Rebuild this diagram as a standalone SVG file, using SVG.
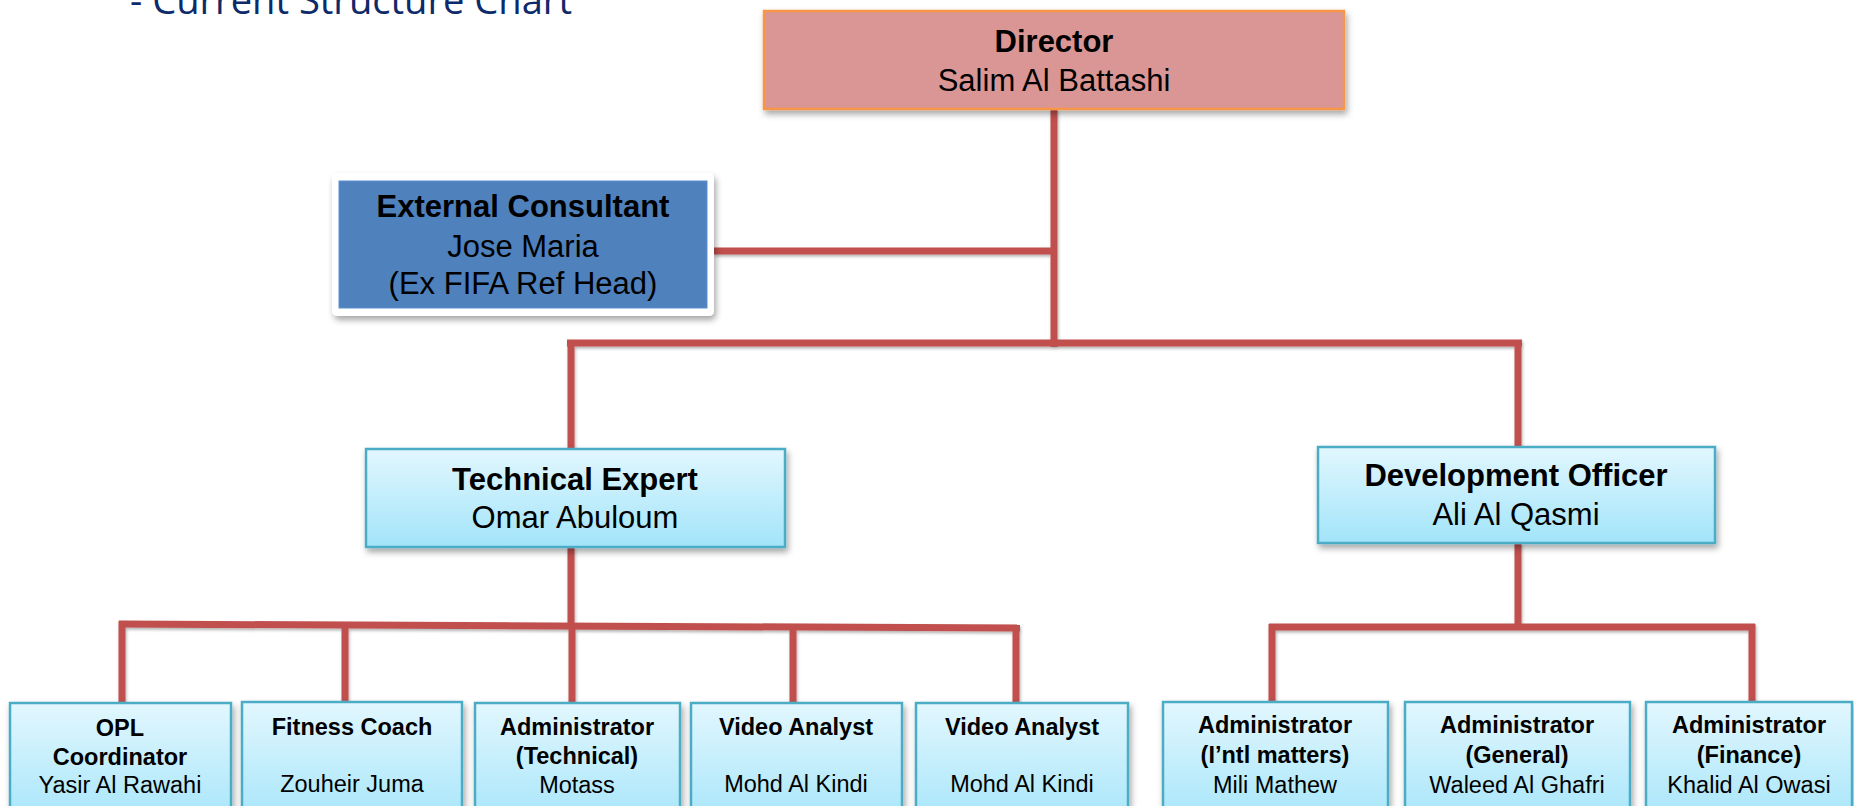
<svg xmlns="http://www.w3.org/2000/svg" width="1854" height="806" viewBox="0 0 1854 806">
<defs>
<linearGradient id="cyan" x1="0" y1="0" x2="0" y2="1">
<stop offset="0" stop-color="#e2f7fe"/>
<stop offset="1" stop-color="#a2e4fa"/>
</linearGradient>
<filter id="sh" x="-10%" y="-10%" width="130%" height="140%">
<feDropShadow dx="2" dy="4" stdDeviation="3" flood-color="#000" flood-opacity="0.35"/>
</filter>
<filter id="lsh" filterUnits="userSpaceOnUse" x="0" y="0" width="1854" height="806">
<feDropShadow dx="1" dy="2" stdDeviation="1.5" flood-color="#000" flood-opacity="0.3"/>
</filter>
</defs>
<style>
text{font-family:"Liberation Sans",Arial,sans-serif;fill:#000;text-anchor:middle}
.b{font-weight:bold}
.big{font-size:31px}
.sm{font-size:23.5px}
.box{fill:url(#cyan);stroke:#4bacc6;stroke-width:2.5;filter:url(#sh)}
.con{stroke:#c0504d;stroke-width:7;fill:none;stroke-linecap:butt}
.title{font-family:"Open Sans","Liberation Sans",sans-serif;fill:#0d2a6a;font-size:38px;text-anchor:start}
</style>
<rect width="1854" height="806" fill="#fff"/>
<text class="title" x="130" y="14" textLength="442" lengthAdjust="spacingAndGlyphs">- Current Structure Chart</text>

<g id="connectors" filter="url(#lsh)">
<path class="con" d="M1054 109 V347"/>
<path class="con" d="M714 251 H1054"/>
<path class="con" d="M567 343 H1522"/>
<path class="con" d="M571 340 V449"/>
<path class="con" d="M1518 340 V447"/>
<path class="con" d="M571 547 V626"/>
<path class="con" d="M119 624 L1020 628"/>
<path class="con" d="M122 621 V703"/>
<path class="con" d="M345 627 V702"/>
<path class="con" d="M572 626 V703"/>
<path class="con" d="M793 627 V703"/>
<path class="con" d="M1016 625 V703"/>
<path class="con" d="M1518 543 V627"/>
<path class="con" d="M1269 627 H1755"/>
<path class="con" d="M1272 624 V702"/>
<path class="con" d="M1752 624 V702"/>
</g>

<g id="director">
<rect x="764" y="11" width="580" height="98" fill="#d99694" stroke="#f79646" stroke-width="2.5" filter="url(#sh)"/>
<text class="b big" x="1054" y="52">Director</text>
<text class="big" x="1054" y="91">Salim Al Battashi</text>
</g>

<g id="consultant">
<rect x="332" y="173" width="382" height="143" rx="5" fill="#fff" filter="url(#sh)"/>
<rect x="339" y="181" width="368" height="127" fill="#4f81bd" stroke="#5b8fd0" stroke-width="1"/>
<text class="b big" x="523" y="217">External Consultant</text>
<text class="big" x="523" y="257">Jose Maria</text>
<text class="big" x="523" y="294">(Ex FIFA Ref Head)</text>
</g>

<g id="technical-expert">
<rect class="box" x="366" y="449" width="419" height="98"/>
<text class="b big" x="575" y="490">Technical Expert</text>
<text class="big" x="575" y="528">Omar Abuloum</text>
</g>

<g id="development-officer">
<rect class="box" x="1318" y="447" width="397" height="96"/>
<text class="b big" x="1516" y="486">Development Officer</text>
<text class="big" x="1516" y="525">Ali Al Qasmi</text>
</g>

<g id="opl">
<rect class="box" x="10" y="703" width="221" height="130"/>
<text class="b sm" x="120" y="736">OPL</text>
<text class="b sm" x="120" y="765">Coordinator</text>
<text class="sm" x="120" y="793">Yasir Al Rawahi</text>
</g>

<g id="fitness">
<rect class="box" x="242" y="702" width="220" height="130"/>
<text class="b sm" x="352" y="735">Fitness Coach</text>
<text class="sm" x="352" y="792">Zouheir Juma</text>
</g>

<g id="admin-technical">
<rect class="box" x="475" y="703" width="205" height="130"/>
<text class="b sm" x="577" y="735">Administrator</text>
<text class="b sm" x="577" y="764">(Technical)</text>
<text class="sm" x="577" y="793">Motass</text>
</g>

<g id="video-1">
<rect class="box" x="691" y="703" width="211" height="130"/>
<text class="b sm" x="796" y="735">Video Analyst</text>
<text class="sm" x="796" y="792">Mohd Al Kindi</text>
</g>

<g id="video-2">
<rect class="box" x="916" y="703" width="212" height="130"/>
<text class="b sm" x="1022" y="735">Video Analyst</text>
<text class="sm" x="1022" y="792">Mohd Al Kindi</text>
</g>

<g id="admin-intl">
<rect class="box" x="1163" y="702" width="225" height="130"/>
<text class="b sm" x="1275" y="733">Administrator</text>
<text class="b sm" x="1275" y="763">(I’ntl matters)</text>
<text class="sm" x="1275" y="793">Mili Mathew</text>
</g>

<g id="admin-general">
<rect class="box" x="1405" y="702" width="225" height="130"/>
<text class="b sm" x="1517" y="733">Administrator</text>
<text class="b sm" x="1517" y="763">(General)</text>
<text class="sm" x="1517" y="793">Waleed Al Ghafri</text>
</g>

<g id="admin-finance">
<rect class="box" x="1646" y="702" width="206" height="130"/>
<text class="b sm" x="1749" y="733">Administrator</text>
<text class="b sm" x="1749" y="763">(Finance)</text>
<text class="sm" x="1749" y="793">Khalid Al Owasi</text>
</g>
</svg>
